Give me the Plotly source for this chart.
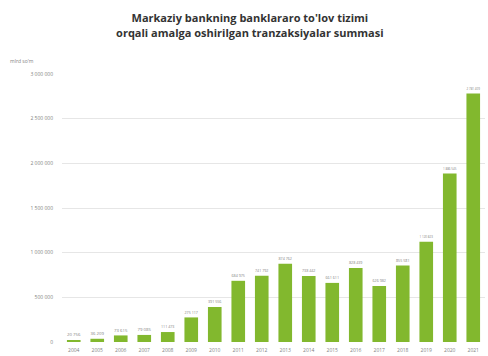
import plotly.graph_objects as go

years = [str(y) for y in range(2004, 2022)]
values = [20756, 36209, 73615, 79085, 111473, 275117, 391556, 684975, 741792,
          874762, 738442, 661611, 828439, 626982, 855581, 1120823, 1886545, 2781409]
tick_vals = [0, 500000, 1000000, 1500000, 2000000, 2500000, 3000000]
tick_text = ["0", "500 000", "1 000 000", "1 500 000", "2 000 000", "2 500 000", "3 000 000"]

def fmt(v):
    return f"{v:,}".replace(",", " ")

fig = go.Figure(go.Bar(
    x=years, y=values,
    marker=dict(color="#82b82e", line=dict(width=0)),
    text=[fmt(v) for v in values], textposition="outside",
    textfont=dict(size=5, color="#7f7f7f"),
    cliponaxis=False,
))

fig.update_layout(
    width=488, height=356,
    margin=dict(l=62, r=3, t=74, b=14),
    paper_bgcolor="white", plot_bgcolor="white",
    font=dict(family="Open Sans, sans-serif"),
    bargap=0.42,
    showlegend=False,
    title=dict(text="<b>Markaziy bankning banklararo to'lov tizimi<br>orqali amalga oshirilgan tranzaksiyalar summasi</b>",
               x=0.512, xanchor="center", y=0.937, yanchor="top",
               font=dict(size=11, color="#333333")),
    annotations=[dict(text="mlrd so'm", xref="paper", yref="paper", x=-0.128, y=1.03,
                      xanchor="left", yanchor="bottom", showarrow=False,
                      font=dict(size=5, color="#7f7f7f"))],
)
fig.update_xaxes(showgrid=False, showline=False, ticks="", tickfont=dict(size=5, color="#7f7f7f"),
                 ticklabelstandoff=4)
fig.update_yaxes(range=[0, 3000000], tickvals=tick_vals, ticktext=tick_text,
                 showgrid=True, gridcolor="#e6e6e6", gridwidth=1, zeroline=False,
                 tickfont=dict(size=5, color="#7f7f7f"), ticklabelstandoff=8)

fig.write_html("out.html")
